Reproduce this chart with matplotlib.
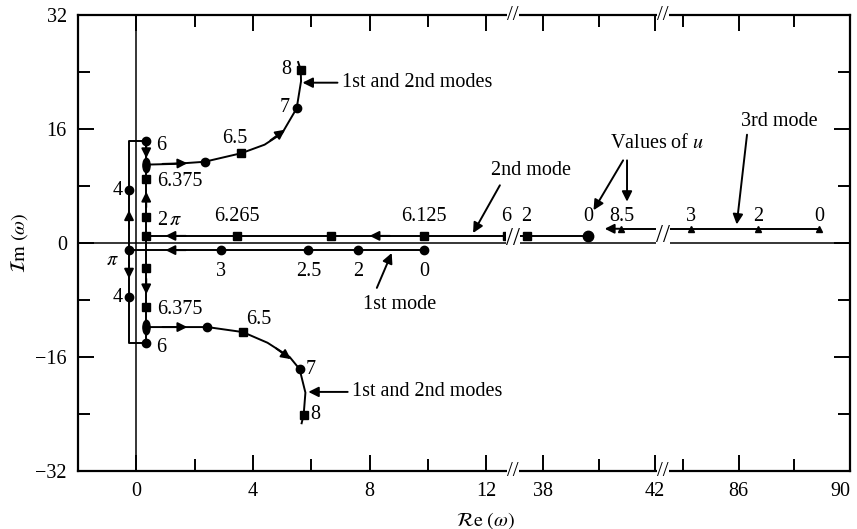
import numpy as np
import matplotlib.pyplot as plt
from matplotlib.markers import MarkerStyle
from matplotlib.transforms import Affine2D, blended_transform_factory

plt.rcParams['font.family'] = ['Liberation Serif', 'DejaVu Serif']
plt.rcParams['mathtext.fontset'] = 'stix'

# ---- data ---------------------------------------------------------------
# 1st mode, along Im = -1 (circles), values of u
m1_re = [9.86, 7.6, 5.9, 2.9, -0.25]
m1_im = [-1.0, -1.0, -1.0, -1.0, -1.0]
m1_lab = ['0', '2', '2.5', '3', r'$\pi$']
# 1st mode, the two branches leaving u = pi
m1_up_re = [-0.25, -0.25, 0.34, 0.34]
m1_up_im = [-1.0, 14.3, 14.3, 11.0]
m1_dn_re = [-0.25, -0.25, 0.34, 0.34]
m1_dn_im = [-1.0, -14.0, -14.0, -11.8]
m1_turn_re = [-0.25, 0.34, -0.25, 0.34]
m1_turn_im = [7.4, 14.3, -7.6, -14.0]
m1_turn_lab = ['4', '6', '4', '6']

# 2nd mode, along Im = +1 (squares, last point at u = 0 is a circle)
m2_re = [39.6, 37.4, 12.7, 9.86, 6.67, 3.44, 0.34]
m2_im = [1.0, 1.0, 1.0, 1.0, 1.0, 1.0, 1.0]
m2_lab = ['0', '2', '6', '6.125', '', '6.265', '']
# 2nd mode, column at Re = 0.34
m2_col_re = [0.34, 0.34, 0.34, 0.34, 0.34, 0.34, 0.34]
m2_col_im = [11.0, 9.0, 3.6, 1.0, -3.5, -9.0, -11.8]
m2_col_lab = ['', '6.375', r'2$\,\pi$', '', '', '6.375', '']

# 1st and 2nd modes together after they meet
up_re = [0.34, 1.3, 2.34, 3.6, 4.4, 5.0, 5.5, 5.65, 5.64, 5.55]
up_im = [11.0, 11.1, 11.4, 12.6, 13.8, 15.4, 18.9, 22.7, 24.3, 25.4]
lo_re = [0.34, 1.3, 2.44, 3.65, 4.5, 5.26, 5.6, 5.8, 5.74, 5.67]
lo_im = [-11.8, -11.8, -11.8, -12.5, -14.0, -16.0, -17.7, -21.0, -24.1, -25.3]
mg_circ_re = [2.34, 5.5, 2.44, 5.6]
mg_circ_im = [11.4, 18.9, -11.8, -17.7]
mg_sq_re = [3.6, 5.64, 3.65, 5.74]
mg_sq_im = [12.6, 24.3, -12.5, -24.1]
mg_lab = ['6.5', '7', '8', '6.5', '7', '8']
mg_lab_re = [3.37, 5.25, 5.3, 4.2, 5.8, 5.95]
mg_lab_im = [14.7, 19.0, 24.3, -10.8, -17.7, -24.1]

# 3rd mode, along Im = 2 (triangles)
m3_re = [40.8, 84.3, 86.7, 88.9]
m3_im = [2.0, 2.0, 2.0, 2.0]
m3_lab = ['8.5', '3', '2', '0']

# direction arrows on the loci: tail re, tail im, head re, head im
dir_arrows = [
    (8.7, 1.0, 8.0, 1.0), (1.7, 1.0, 1.0, 1.0), (1.7, -1.0, 1.0, -1.0),
    (40.8, 2.0, 40.2, 2.0),
    (-0.25, 2.0, -0.25, 4.6), (-0.25, -2.4, -0.25, -5.0),
    (0.34, 5.0, 0.34, 7.2), (0.34, -5.0, 0.34, -7.2),
    (0.34, 13.8, 0.34, 11.9),
    (0.9, 11.1, 1.75, 11.2), (0.9, -11.8, 1.75, -11.8),
    (4.6, 14.4, 5.1, 15.9), (4.8, -14.8, 5.3, -16.3),
]

# annotations: text, text re, text im, alignment, list of (tail, head)
notes = [
    ('1st and 2nd modes', 7.05, 22.5, 'left', [((6.9, 22.5), (5.7, 22.5))]),
    ('1st and 2nd modes', 7.4, -20.9, 'left', [((7.25, -20.9), (5.9, -20.9))]),
    ('2nd mode', 12.16, 10.2, 'left', [((12.47, 8.1), (11.55, 1.4))]),
    ('1st mode', 9.04, -8.7, 'center', [((8.25, -6.3), (8.76, -1.4))]),
    ('Values of $u$', 42.07, 14.0, 'center',
     [((40.86, 11.6), (39.8, 4.6)), ((41.0, 11.6), (41.0, 5.8))]),
    ('3rd mode', 87.47, 17.0, 'center', [((86.3, 15.2), (85.93, 2.6))]),
]

x_major = [0, 4, 8, 12, 38, 42, 86, 90]
x_minor = [2, 6, 10, 40, 84, 88]
y_major = [-32, -16, 0, 16, 32]
y_minor = [-24, -8, 8, 24]

# ---- broken Re axis: value -> position ----------------------------------
re_knots = [-2, 12.92, 36.93, 42.29, 83.3, 90]
px_knots = [78, 513, 513.5, 663, 663.5, 850]


def fwd(x):
    x = np.asarray(x, float)
    out = np.interp(x, re_knots, px_knots)
    out = np.where(x < re_knots[0], px_knots[0] + (x - re_knots[0]) * 29.15, out)
    out = np.where(x > re_knots[-1], px_knots[-1] + (x - re_knots[-1]) * 27.8, out)
    return out


def inv(p):
    p = np.asarray(p, float)
    out = np.interp(p, px_knots, re_knots)
    out = np.where(p < px_knots[0], re_knots[0] + (p - px_knots[0]) / 29.15, out)
    out = np.where(p > px_knots[-1], re_knots[-1] + (p - px_knots[-1]) / 27.8, out)
    return out


fig = plt.figure(figsize=(8.57, 5.29), dpi=100)
ax = fig.add_axes([78 / 857, 58 / 529, 772 / 857, 456 / 529])
ax.set_xscale('function', functions=(fwd, inv))
ax.set_xlim(-2, 90)
ax.set_ylim(-32, 32)

fs = 14.5
lw = 1.4
ax.axhline(0, color='k', lw=1.1, zorder=1)
ax.axvline(0, color='k', lw=1.1, zorder=1)

# loci
ax.plot(m1_re, m1_im, color='k', lw=lw)
ax.plot(m1_up_re, m1_up_im, color='k', lw=lw)
ax.plot(m1_dn_re, m1_dn_im, color='k', lw=lw)
ax.plot(m2_re, m2_im, color='k', lw=lw)
ax.plot(m2_col_re, m2_col_im, color='k', lw=lw)
ax.plot(up_re, up_im, color='k', lw=lw)
ax.plot(lo_re, lo_im, color='k', lw=lw)
ax.plot(m3_re, m3_im, color='k', lw=lw)

# markers
ax.plot(m1_re, m1_im, 'o', color='k', ms=6)
ax.plot(m1_turn_re, m1_turn_im, 'o', color='k', ms=6)
ax.plot(m2_re[1:], m2_im[1:], 's', color='k', ms=5.8)
ax.plot(m2_re[:1], m2_im[:1], 'o', color='k', ms=7.5)
ax.plot([m2_col_re[i] for i in (1, 2, 4, 5)], [m2_col_im[i] for i in (1, 2, 4, 5)],
        's', color='k', ms=5.8)
oval = MarkerStyle('o', transform=Affine2D().scale(0.8, 1.6))
ax.plot([m2_col_re[0], m2_col_re[-1]], [m2_col_im[0], m2_col_im[-1]],
        marker=oval, ls='none', color='k', ms=6.5)
ax.plot(mg_circ_re, mg_circ_im, 'o', color='k', ms=6)
ax.plot(mg_sq_re, mg_sq_im, 's', color='k', ms=5.8)
ax.plot(m3_re, m3_im, '^', color='k', ms=5)

# direction arrows
for x0, y0, x1, y1 in dir_arrows:
    ax.annotate('', xy=(x1, y1), xytext=(x0, y0),
                arrowprops=dict(arrowstyle='-|>', color='k', lw=lw,
                                mutation_scale=14, shrinkA=0, shrinkB=0))

# value labels
for x, t in zip(m1_re[:4], m1_lab[:4]):
    ax.text(x, -4.0, t, ha='center', va='center', fontsize=fs)
ax.text(-0.82, -2.4, m1_lab[4], ha='center', va='center', fontsize=fs)
for x, y, t in zip(m1_turn_re, m1_turn_im, m1_turn_lab):
    if t == '4':
        ax.text(x - 0.2, y, t, ha='right', va='center', fontsize=fs)
    else:
        ax.text(x + 0.35, y - 0.6, t, ha='left', va='center', fontsize=fs)
for x, t in zip(m2_re, m2_lab):
    if t:
        ax.text(x, 3.7, t, ha='center', va='center', fontsize=fs)
for y, t in zip(m2_col_im, m2_col_lab):
    if t:
        ax.text(0.7, y - 0.4, t, ha='left', va='center', fontsize=fs)
for x, y, t in zip(mg_lab_re, mg_lab_im, mg_lab):
    ha = 'center' if t == '6.5' else ('right' if x < 5.6 and y > 0 else 'left')
    ax.text(x, y, t, ha=ha, va='center', fontsize=fs)
for x, t in zip(m3_re, m3_lab):
    ax.text(x, 3.7, t, ha='center', va='center', fontsize=fs)

# annotations
for t, x, y, ha, arrs in notes:
    ax.text(x, y, t, ha=ha, va='center', fontsize=fs)
    for (x0, y0), (x1, y1) in arrs:
        ax.annotate('', xy=(x1, y1), xytext=(x0, y0),
                    arrowprops=dict(arrowstyle='-|>', color='k', lw=lw,
                                    mutation_scale=15, shrinkA=0, shrinkB=0))

# axis breaks
bt = blended_transform_factory(ax.transData, ax.transAxes)
for b in (re_knots[1], re_knots[3]):
    for yy in (0.0, 1.0):
        ax.text(b, yy, '//', transform=bt, ha='center', va='center', fontsize=15,
                clip_on=False, zorder=5,
                bbox=dict(facecolor='white', edgecolor='none', pad=0.3))
ax.text(re_knots[1], 0.5, '//', ha='center', va='center', fontsize=18, zorder=5,
        bbox=dict(facecolor='white', edgecolor='none', pad=0.2))
ax.text(re_knots[3], 1.0, '//', ha='center', va='center', fontsize=18, zorder=5,
        bbox=dict(facecolor='white', edgecolor='none', pad=0.2))

# ticks
ax.set_xticks(x_major)
ax.set_xticklabels([str(v) for v in x_major])
ax.set_xticks(x_minor, minor=True)
ax.set_yticks(y_major)
ax.set_yticklabels([str(v).replace('-', '\u2212') for v in y_major])
ax.set_yticks(y_minor, minor=True)
ax.tick_params(which='both', direction='in', top=True, right=True,
               width=1.4, labelsize=fs, colors='k')
ax.tick_params(which='major', length=11.5, pad=8)
ax.tick_params(which='minor', length=8.5)
ax.get_xticklabels()[-1].set_horizontalalignment('right')
for s in ax.spines.values():
    s.set_linewidth(1.6)

ax.set_xlabel(r'$\mathcal{R}\mathrm{e}\ (\omega)$', fontsize=fs)
ax.xaxis.set_label_coords((486 - 78) / 772, -0.085)
ax.set_ylabel(r'$\mathcal{I}\mathrm{m}\ (\omega)$', fontsize=fs)
ax.yaxis.set_label_coords(-0.062, 0.5)

fig.savefig('out.png', dpi=100)
